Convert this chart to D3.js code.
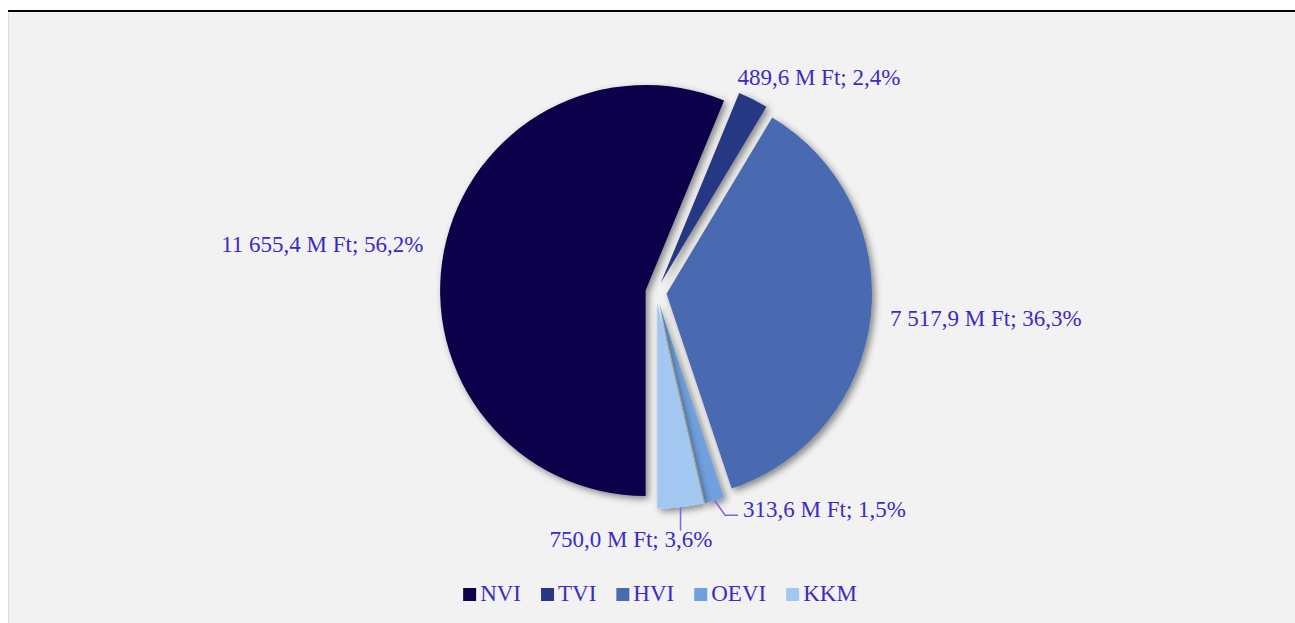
<!DOCTYPE html>
<html lang="hu">
<head>
<meta charset="UTF-8">
<title>Pie</title>
<script src="https://d3js.org/d3.v7.min.js"></script>
<style>
  body { margin: 0; background: #ffffff; }
  text { font-family: "Liberation Serif", "Times New Roman", serif; }
</style>
</head>
<body>
<script>
// data
var categories = ["NVI", "TVI", "HVI", "OEVI", "KKM"];
var values = [11655.4, 489.6, 7517.9, 313.6, 750.0];
var unit = "M Ft";

// styles
var colors = ["#10004b", "#283783", "#4a6bb0", "#6fa0dd", "#a2c8f2"];
var textColor = "#3a2bc8";
var leaderColor = "#7b64ee";
// label position around the pie centre: angle in degrees (clockwise from top), distance in px
var labelAngle = [278.1, 37.1, 94.6, 142.2, 185.8];
var labelDist = [337, 270, 331, 275, 248];
var hasLeader = [false, false, false, true, true];

var width = 1295, height = 623;
var cx = 656, cy = 292.5, radius = 205.5, explode = 10.6;

var loc = d3.formatLocale({decimal: ",", thousands: " ", grouping: [3], currency: ["", ""]});
var fmtVal = loc.format(",.1f");
var fmtPct = loc.format(".1f");
var total = d3.sum(values);

var svg = d3.select("body").append("svg")
    .attr("width", width)
    .attr("height", height);

var defs = svg.append("defs");
var shadow = defs.append("filter").attr("id", "shadow")
    .attr("x", "-20%").attr("y", "-20%").attr("width", "140%").attr("height", "140%");
shadow.append("feDropShadow")
    .attr("dx", 3).attr("dy", 3).attr("stdDeviation", 3.5)
    .attr("flood-color", "#000").attr("flood-opacity", 0.45);

// frame
svg.append("rect").attr("x", 8).attr("y", 12).attr("width", width - 8).attr("height", height - 12)
    .attr("fill", "#f2f2f2");
svg.append("line").attr("x1", 8.5).attr("x2", 8.5).attr("y1", 12).attr("y2", height)
    .attr("stroke", "#dedede").attr("stroke-width", 1);
svg.append("rect").attr("x", 8).attr("y", 10).attr("width", width - 8).attr("height", 2)
    .attr("fill", "#000");

var pie = d3.pie().sort(null).startAngle(Math.PI).endAngle(3 * Math.PI);
var arcs = pie(values);
var arc = d3.arc().innerRadius(0).outerRadius(radius);

function mid(d) { return (d.startAngle + d.endAngle) / 2; }
function offset(d) {
    var a = mid(d);
    return [explode * Math.sin(a), -explode * Math.cos(a)];
}

var pieG = svg.append("g").attr("transform", "translate(" + cx + "," + cy + ")");

pieG.selectAll("path.slice").data(arcs).enter()
    .append("path")
    .attr("class", "slice")
    .attr("d", arc)
    .attr("fill", function(d, i) { return colors[i]; })
    .attr("filter", "url(#shadow)")
    .attr("transform", function(d) { var o = offset(d); return "translate(" + o[0] + "," + o[1] + ")"; });

// labels
var labels = pieG.selectAll("text.lbl").data(arcs).enter()
    .append("text")
    .attr("class", "lbl")
    .attr("text-anchor", "middle")
    .attr("dy", "0.32em")
    .attr("x", function(d, i) { return labelDist[i] * Math.sin(labelAngle[i] * Math.PI / 180); })
    .attr("y", function(d, i) { return -labelDist[i] * Math.cos(labelAngle[i] * Math.PI / 180); })
    .attr("font-size", 23)
    .attr("fill", textColor)
    .text(function(d, i) {
        return fmtVal(values[i]) + " " + unit + "; " + fmtPct(values[i] / total * 100) + "%";
    });

// leader lines for labels that were moved away from their slice
labels.each(function(d, i) {
    if (!hasLeader[i]) return;
    var bb = this.getBBox();
    var o = offset(d), a = mid(d);
    var px = o[0] + radius * Math.sin(a), py = o[1] - radius * Math.cos(a);
    var pts;
    if (px > bb.x && px < bb.x + bb.width) {
        pts = [[px, py], [px, bb.y + 4]];
    } else {
        var ey = bb.y + bb.height - 7;
        pts = [[px, py], [bb.x - 18, ey], [bb.x - 5, ey]];
    }
    pieG.append("path")
        .attr("d", d3.line()(pts))
        .attr("fill", "none")
        .attr("stroke", leaderColor)
        .attr("stroke-width", 1.5);
});

// legend
var legend = svg.append("g");
var items = legend.selectAll("g").data(categories).enter().append("g");
items.append("rect")
    .attr("width", 13).attr("height", 13).attr("y", -13)
    .attr("fill", function(d, i) { return colors[i]; });
items.append("text")
    .attr("x", 17)
    .attr("font-size", 23)
    .attr("fill", textColor)
    .text(function(d) { return d; });

var xs = [], pos = 0;
items.each(function() {
    xs.push(pos);
    pos += 17 + d3.select(this).select("text").node().getComputedTextLength() + 20;
});
pos -= 20;
items.attr("transform", function(d, i) { return "translate(" + xs[i] + ",0)"; });
legend.attr("transform", "translate(" + (660 - pos / 2) + ",601)");
</script>
</body>
</html>
